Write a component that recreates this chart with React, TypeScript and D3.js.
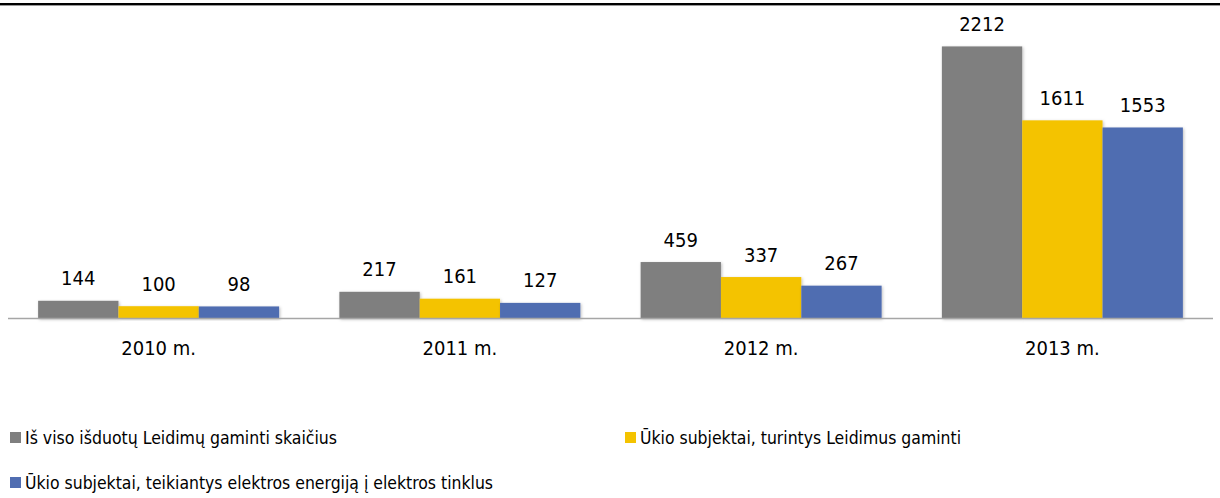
import React from 'react';
import * as d3 from 'd3';

const years = ['2010 m.', '2011 m.', '2012 m.', '2013 m.'];
const seriesNames = [
  'Iš viso išduotų Leidimų gaminti skaičius',
  'Ūkio subjektai, turintys Leidimus gaminti',
  'Ūkio subjektai, teikiantys elektros energiją į elektros tinklus',
];
const totalIssued = [144, 217, 459, 2212];
const holders = [100, 161, 337, 1611];
const suppliers = [98, 127, 267, 1553];
const colors = ['#7f7f7f', '#f4c300', '#506db1'];

const W = 1220;
const H = 498;
const FONT = "'DejaVu Sans Condensed', 'DejaVu Sans', sans-serif";

export default function App() {
  const values = [totalIssued, holders, suppliers];

  const x0 = d3.scaleBand<string>().domain(years).range([8, 1213]).paddingInner(0.2).paddingOuter(0.1);
  const x1 = d3.scaleBand<number>().domain([0, 1, 2]).range([0, x0.bandwidth()]);
  const y = d3.scaleLinear().domain([0, 2500]).range([318.5, 11]);

  React.useEffect(() => {
    document.body.style.margin = '0';
  }, []);

  // legend slots: series index, position, measured text width
  const legend = [
    { s: 0, x: 10, y: 432, w: 312 },
    { s: 1, x: 625, y: 432, w: 321 },
    { s: 2, x: 10, y: 477, w: 468 },
  ];

  return (
    <svg width={W} height={H} style={{ display: 'block' }} fontFamily={FONT}>
      <defs>
        <filter id="sh" x="-10%" y="-10%" width="130%" height="130%">
          <feDropShadow dx="1" dy="1" stdDeviation="1.5" floodColor="#000" floodOpacity="0.25" />
        </filter>
      </defs>
      <rect x={0} y={3} width={W} height={2.4} fill="#000" />

      {years.map((yr, i) => (
        <g key={yr} transform={`translate(${x0(yr)},0)`}>
          {values.map((vals, s) => (
            <rect
              key={s}
              x={x1(s)}
              y={y(vals[i])}
              width={x1.bandwidth()}
              height={y(0) - y(vals[i])}
              fill={colors[s]}
              filter="url(#sh)"
            />
          ))}
          {values.map((vals, s) => (
            <text
              key={'l' + s}
              x={(x1(s) as number) + x1.bandwidth() / 2}
              y={y(vals[i]) - 15.5}
              textAnchor="middle"
              fontSize={20}
              fill="#000"
            >
              {vals[i]}
            </text>
          ))}
          <text x={x0.bandwidth() / 2} y={355} textAnchor="middle" fontSize={20} fill="#000">
            {yr}
          </text>
        </g>
      ))}

      <line x1={8} x2={1213} y1={y(0)} y2={y(0)} stroke="#a6a6a6" strokeWidth={1.5} />

      {legend.map(({ s, x, y: ly, w }) => (
        <g key={s}>
          <rect x={x} y={ly} width={11} height={11} fill={colors[s]} />
          <text
            x={x + 15}
            y={ly + 12}
            fontSize={18.5}
            fill="#000"
            textLength={w}
            lengthAdjust="spacingAndGlyphs"
          >
            {seriesNames[s]}
          </text>
        </g>
      ))}
    </svg>
  );
}
